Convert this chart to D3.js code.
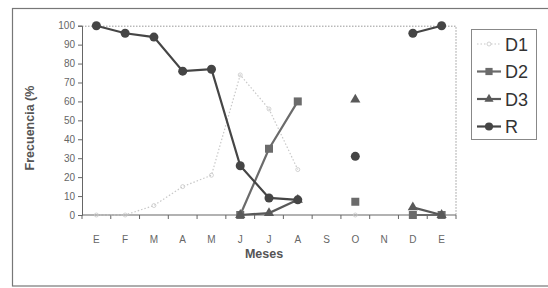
<!DOCTYPE html>
<meta charset="utf-8">
<script src="https://d3js.org/d3.v7.min.js"></script>
<style>
body { margin: 0; background: #fff; }
text { font-family: "Liberation Sans", Arial, sans-serif; }
</style>
<body>
<script>

// months (13 points, E..E)
var meses = ["E","F","M","A","M","J","J","A","S","O","N","D","E"];
var yTicks = [0,10,20,30,40,50,60,70,80,90,100];

var d1 = [0, 0, 5, 15, 21, 74, 56, 24, null, 0, null, 0, 0];
var d2 = [null, null, null, null, null, 0, 35, 60, null, 7, null, 0, 0];
var d3v = [null, null, null, null, null, 0, 1, 8, null, 61, null, 4, 0];
var r  = [100, 96, 94, 76, 77, 26, 9, 8, null, 31, null, 96, 100];

var series = [
  {name: "D1", values: d1, color: "#c8c8c8", dash: "1.5,2", marker: "none", width: 1.2},
  {name: "D2", values: d2, color: "#6b6b6b", dash: null, marker: "square", width: 2.2},
  {name: "D3", values: d3v, color: "#595959", dash: null, marker: "triangle", width: 2.2},
  {name: "R",  values: r,  color: "#454545", dash: null, marker: "circle", width: 2.2}
];

var W = 548, H = 288;
var margin = {top: 25.7, right: 92, bottom: 73, left: 82};

var svg = d3.select("body").append("svg")
  .attr("width", W).attr("height", H);

// outer frame
svg.append("rect")
  .attr("x", 12.5).attr("y", 8.5)
  .attr("width", 560).attr("height", 277.5)
  .attr("fill", "none").attr("stroke", "#777").attr("stroke-width", 1.2);

var g = svg.append("g")
  .attr("transform", "translate(" + margin.left + "," + margin.top + ")");

var width = 456 - margin.left, height = 215 - margin.top;

var x = d3.scaleBand().domain(d3.range(meses.length)).range([0, width]);
var y = d3.scaleLinear().domain([0, 100]).range([height, 0]);

// plot border (top / right dotted)
g.append("path")
  .attr("d", "M0,0.5H" + width + "V" + height)
  .attr("fill", "none").attr("stroke", "#999").attr("stroke-dasharray", "1.5,1.5");

// y axis
var yAxis = g.append("g")
  .call(d3.axisLeft(y).tickValues(yTicks).tickSize(4).tickPadding(3));
yAxis.select(".domain").attr("stroke", "#666");
yAxis.selectAll(".tick line").attr("stroke", "#666");
yAxis.selectAll("text").attr("fill", "#666").style("font-size", "10px");

// x axis: ticks on band edges
var xAxis = g.append("g").attr("transform", "translate(0," + height + ")");
xAxis.append("line").attr("x1", 0).attr("x2", width)
  .attr("stroke", "#666").attr("stroke-width", 1.2);
xAxis.selectAll(".tk").data(d3.range(meses.length + 1)).enter().append("line")
  .attr("x1", function(i){ return i * x.bandwidth(); })
  .attr("x2", function(i){ return i * x.bandwidth(); })
  .attr("y1", 0).attr("y2", 4).attr("stroke", "#666");
xAxis.selectAll(".lb").data(meses).enter().append("text")
  .attr("x", function(d, i){ return x(i) + x.bandwidth() / 2; })
  .attr("y", 28).attr("text-anchor", "middle")
  .attr("fill", "#666").style("font-size", "10px")
  .text(function(d){ return d; });

// axis titles
svg.append("text")
  .attr("transform", "translate(33.5,128) rotate(-90)")
  .attr("text-anchor", "middle")
  .attr("fill", "#555").style("font-size", "12.5px").style("font-weight", "bold")
  .text("Frecuencia (%");

svg.append("text")
  .attr("x", 264).attr("y", 258).attr("text-anchor", "middle")
  .attr("fill", "#555").style("font-size", "12.5px").style("font-weight", "bold")
  .text("Meses");

function cx(i){ return x(i) + x.bandwidth() / 2; }

function drawMarker(sel, type, color, px, py, s) {
  if (type === "circle") {
    sel.append("circle").attr("cx", px).attr("cy", py).attr("r", 4.5 * s).attr("fill", color);
  } else if (type === "square") {
    var a = 8 * s;
    sel.append("rect").attr("x", px - a/2).attr("y", py - a/2)
      .attr("width", a).attr("height", a).attr("fill", color);
  } else if (type === "triangle") {
    sel.append("path")
      .attr("d", d3.symbol().type(d3.symbolTriangle).size(45 * s * s)())
      .attr("transform", "translate(" + px + "," + py + ")")
      .attr("fill", color);
  }
}

var line = d3.line()
  .defined(function(d){ return d != null; })
  .x(function(d, i){ return cx(i); })
  .y(function(d){ return y(d); });

series.forEach(function(s) {
  var sg = g.append("g");
  sg.append("path").datum(s.values)
    .attr("d", line)
    .attr("fill", "none").attr("stroke", s.color)
    .attr("stroke-width", s.width)
    .attr("stroke-dasharray", s.dash);
  s.values.forEach(function(v, i) {
    if (v == null) return;
    if (s.marker === "none") {
      sg.append("circle").attr("cx", cx(i)).attr("cy", y(v)).attr("r", 2)
        .attr("fill", "none").attr("stroke", s.color).attr("stroke-width", 0.8);
    } else {
      drawMarker(sg, s.marker, s.color, cx(i), y(v), 1);
    }
  });
});

// legend
var lg = svg.append("g");
lg.append("rect").attr("x", 471.5).attr("y", 29.5).attr("width", 65).attr("height", 110)
  .attr("fill", "#fff").attr("stroke", "#888");
series.forEach(function(s, k) {
  var ly = 44 + k * 27.5;
  lg.append("line").attr("x1", 477).attr("x2", 501).attr("y1", ly).attr("y2", ly)
    .attr("stroke", s.color).attr("stroke-width", s.width).attr("stroke-dasharray", s.dash);
  if (s.marker === "none") {
    lg.append("circle").attr("cx", 489).attr("cy", ly).attr("r", 2)
      .attr("fill", "#fff").attr("stroke", s.color).attr("stroke-width", 0.8);
  } else {
    drawMarker(lg, s.marker, s.color, 489, ly, 0.9);
  }
  lg.append("text").attr("x", 505).attr("y", ly + 6.5)
    .attr("fill", "#333").style("font-size", "18px")
    .text(s.name);
});

</script>
</body>
</html>
